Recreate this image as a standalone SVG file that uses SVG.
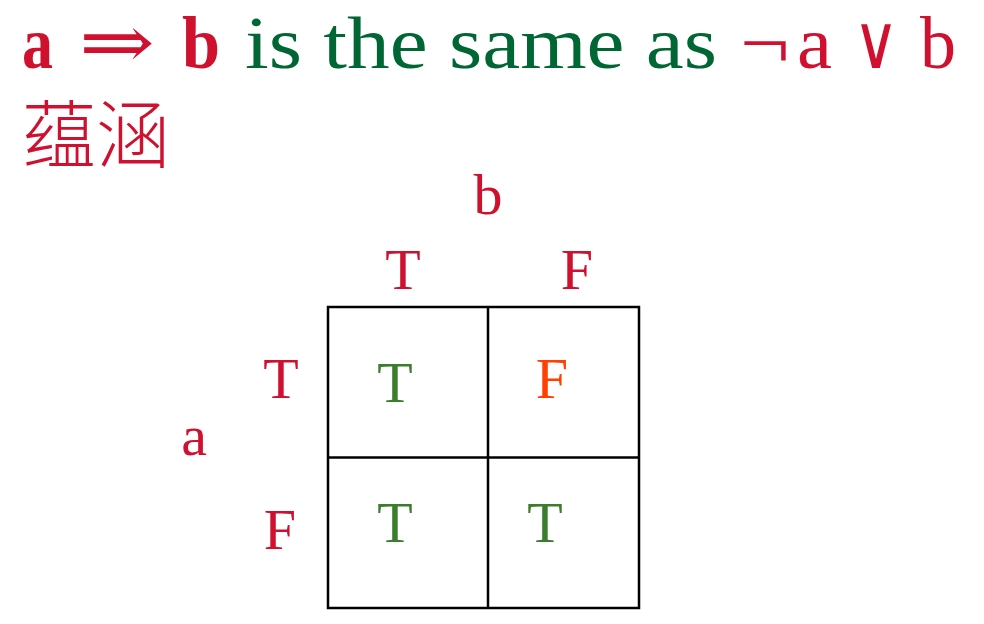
<svg xmlns="http://www.w3.org/2000/svg" width="984" height="624" viewBox="0 0 984 624">
<style>
text{font-family:"Liberation Serif","DejaVu Serif",serif;}
.red{fill:#D0102F;}
.grn{fill:#006633;}
.cg{fill:#3A7D2C;}
.org{fill:#FF4000;}
.lbl{font-size:58px;text-anchor:middle;}
.cell{font-size:58px;text-anchor:middle;}
.grid{fill:none;stroke:#000;stroke-width:2.5;}
</style>
<rect width="984" height="624" fill="#fff"/>
<g id="title">
<text y="68" font-size="75" class="red" font-weight="bold"><tspan x="22" textLength="31" lengthAdjust="spacingAndGlyphs">a</tspan><tspan x="79" font-weight="normal" textLength="76" lengthAdjust="spacingAndGlyphs">⇒</tspan><tspan x="182" textLength="38" lengthAdjust="spacingAndGlyphs">b</tspan></text>
<text x="245" y="68" font-size="75" class="grn" textLength="472" lengthAdjust="spacingAndGlyphs">is the same as</text>
<text y="68" font-size="75" class="red"><tspan x="740" textLength="50" lengthAdjust="spacingAndGlyphs">¬</tspan><tspan x="797" textLength="35" lengthAdjust="spacingAndGlyphs">a</tspan><tspan x="853" textLength="46" lengthAdjust="spacingAndGlyphs">∨</tspan><tspan x="920" textLength="36" lengthAdjust="spacingAndGlyphs">b</tspan></text>
</g>
<g id="subtitle">
<text x="22" y="162" font-size="74" font-weight="300" class="red" style="font-family:'Noto Sans CJK SC',sans-serif" textLength="148" lengthAdjust="spacingAndGlyphs">蕴涵</text>
</g>
<g id="grid">
<rect class="grid" x="328" y="307" width="311" height="301"/>
<line class="grid" x1="488" y1="307" x2="488" y2="608"/>
<line class="grid" x1="328" y1="457.5" x2="639" y2="457.5"/>
</g>
<g id="labels">
<text id="lbl-b" class="lbl red" x="488" y="214">b</text>
<text id="lbl-bT" class="lbl red" x="403" y="289">T</text>
<text id="lbl-bF" class="lbl red" x="577" y="289">F</text>
<text id="lbl-a" class="lbl red" x="194" y="455">a</text>
<text id="lbl-aT" class="lbl red" x="281" y="398">T</text>
<text id="lbl-aF" class="lbl red" x="280" y="549">F</text>
</g>
<g id="cells">
<text id="c11" class="cell cg" x="395" y="402">T</text>
<text id="c12" class="cell org" x="552" y="398">F</text>
<text id="c21" class="cell cg" x="395" y="542">T</text>
<text id="c22" class="cell cg" x="545" y="542">T</text>
</g>
</svg>
